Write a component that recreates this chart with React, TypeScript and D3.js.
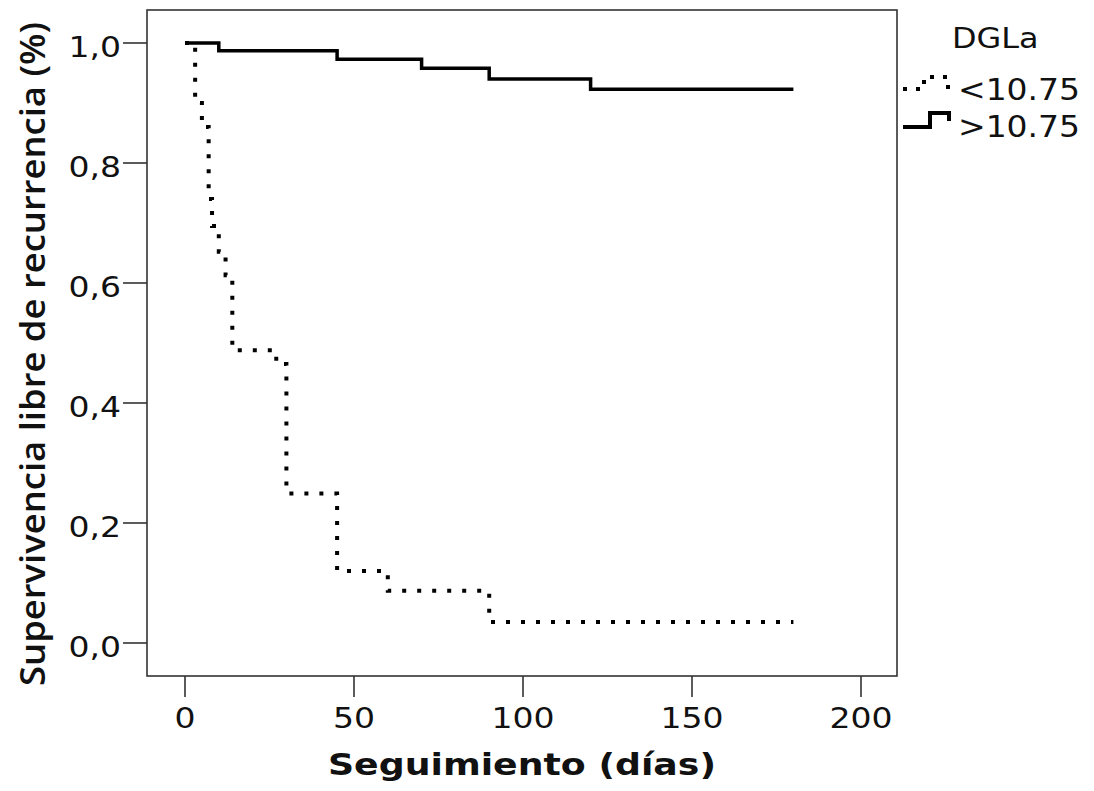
import React from 'react';
import * as d3 from 'd3';

// Kaplan-Meier steps (day of event, survival after it)
const lowDays = [0, 3, 5, 7, 8, 10, 12, 14, 27, 30, 45, 60, 90, 180];
const lowSurv = [1, 0.9, 0.86, 0.74, 0.695, 0.652, 0.613, 0.488, 0.465, 0.249, 0.12, 0.087, 0.035, 0.035];
const highDays = [0, 10, 45, 70, 90, 120, 180];
const highSurv = [1, 0.987, 0.973, 0.958, 0.94, 0.923, 0.923];

const xTicks = [0, 50, 100, 150, 200];
const yTicks = [0, 0.2, 0.4, 0.6, 0.8, 1.0];
const legendTitle = 'DGLa';
const legendLabels = ['<10.75', '>10.75'];

const W = 1094;
const H = 791;
const frame = { left: 147, right: 897, top: 10, bottom: 676 };
const font = '"DejaVu Sans", sans-serif';

const App = () => {
  const x = d3.scaleLinear().domain([0, 200]).range([185, 861]);
  const y = d3.scaleLinear().domain([0, 1]).range([643, 43]);

  const line = d3
    .line<[number, number]>()
    .x((d) => x(d[0]))
    .y((d) => y(d[1]))
    .curve(d3.curveStepAfter);

  const lowPts = lowDays.map((d, i) => [d, lowSurv[i]] as [number, number]);
  const highPts = highDays.map((d, i) => [d, highSurv[i]] as [number, number]);

  const fmt = (v: number) => v.toFixed(1).replace('.', ',');

  return (
    <svg
      width={W}
      height={H}
      style={{ position: 'absolute', left: 0, top: 0, background: '#fff' }}
    >
      <rect width={W} height={H} fill="#fff" />

      {/* frame */}
      <rect
        x={frame.left}
        y={frame.top}
        width={frame.right - frame.left}
        height={frame.bottom - frame.top}
        fill="none"
        stroke="#333"
        strokeWidth={1.6}
      />

      {/* y axis */}
      {yTicks.map((t) => (
        <g key={'y' + t}>
          <line x1={123} x2={frame.left} y1={y(t)} y2={y(t)} stroke="#333" strokeWidth={1.6} />
          <text
            transform={`translate(121,${y(t) + 13.5}) scale(1.14,1)`}
            textAnchor="end"
            fontFamily={font}
            fontSize={29}
            fill="#111"
          >
            {fmt(t)}
          </text>
        </g>
      ))}

      {/* x axis */}
      {xTicks.map((t) => (
        <g key={'x' + t}>
          <line x1={x(t)} x2={x(t)} y1={frame.bottom} y2={697} stroke="#333" strokeWidth={1.6} />
          <text
            transform={`translate(${x(t)},728) scale(1.14,1)`}
            textAnchor="middle"
            fontFamily={font}
            fontSize={29}
            fill="#111"
          >
            {t}
          </text>
        </g>
      ))}

      {/* axis titles */}
      <text
        x={522}
        y={775}
        textAnchor="middle"
        fontFamily={font}
        fontWeight="bold"
        fontSize={31}
        textLength={388}
        lengthAdjust="spacingAndGlyphs"
        fill="#111"
      >
        Seguimiento (días)
      </text>
      <text
        transform="translate(45,354) rotate(-90)"
        textAnchor="middle"
        fontFamily='"Open Sans", sans-serif'
        fontWeight={600}
        fontSize={34}
        textLength={664}
        lengthAdjust="spacingAndGlyphs"
        fill="#111"
      >
        Supervivencia libre de recurrencia (%)
      </text>

      {/* curves */}
      <path
        d={line(lowPts) || ''}
        fill="none"
        stroke="#000"
        strokeWidth={4}
        strokeDasharray="4 11"
      />
      <path d={line(highPts) || ''} fill="none" stroke="#000" strokeWidth={3.5} />

      {/* legend */}
      <text
        transform="translate(952,48) scale(1.1,1)"
        fontFamily={font}
        fontSize={29}
        fill="#111"
      >
        {legendTitle}
      </text>
      <path
        d="M903,89 H924 V77 H948 V90"
        fill="none"
        stroke="#000"
        strokeWidth={4}
        strokeDasharray="4 9"
      />
      <text
        transform="translate(958,100) scale(1.1,1)"
        fontFamily={font}
        fontSize={30}
        fill="#111"
      >
        {legendLabels[0]}
      </text>
      <path d="M903,127 H930 V113 H949 V121" fill="none" stroke="#000" strokeWidth={4} />
      <text
        transform="translate(958,137) scale(1.1,1)"
        fontFamily={font}
        fontSize={30}
        fill="#111"
      >
        {legendLabels[1]}
      </text>
    </svg>
  );
};

export default App;
